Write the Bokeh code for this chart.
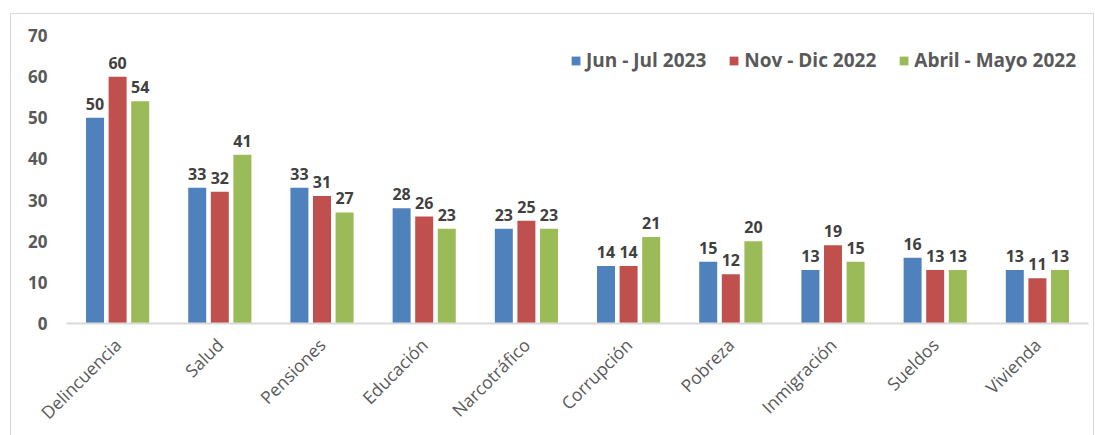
import math
from bokeh.plotting import figure
from bokeh.models import ColumnDataSource, Range1d, SingleIntervalTicker, Legend, LegendItem
from bokeh.transform import dodge
from bokeh.core.properties import value
from bokeh.embed import file_html
from bokeh.resources import INLINE

categories = ["Delincuencia", "Salud", "Pensiones", "Educación", "Narcotráfico",
              "Corrupción", "Pobreza", "Inmigración", "Sueldos", "Vivienda"]
series_names = ["Jun - Jul 2023", "Nov - Dic 2022", "Abril - Mayo 2022"]
jun_jul_2023 = [50, 33, 33, 28, 23, 14, 15, 13, 16, 13]
nov_dic_2022 = [60, 32, 31, 26, 25, 14, 12, 19, 13, 11]
abr_may_2022 = [54, 41, 27, 23, 23, 21, 20, 15, 13, 13]
y_ticks = [0, 10, 20, 30, 40, 50, 60, 70]

colors = ["#4F81BD", "#C0504D", "#9BBB59"]
offsets = [-0.221, 0.0, 0.221]
FONT = "Open Sans"

src = ColumnDataSource(dict(cat=categories, s0=jun_jul_2023, s1=nov_dic_2022, s2=abr_may_2022,
                            l0=[str(v) for v in jun_jul_2023],
                            l1=[str(v) for v in nov_dic_2022],
                            l2=[str(v) for v in abr_may_2022]))

p = figure(x_range=categories, y_range=Range1d(0, 70), frame_width=1022, frame_height=288,
           output_backend="svg", toolbar_location=None,
           min_border_left=55, min_border_right=5, min_border_top=21, min_border_bottom=60)
p.margin = (13, 0, 0, 10)
p.styles = {"border": "1px solid #d9d9d9", "border-bottom": "none"}
p.outline_line_color = None
p.xgrid.grid_line_color = None
p.ygrid.grid_line_color = None
p.background_fill_color = "white"
p.border_fill_color = "white"

items = []
for i in range(3):
    r = p.vbar(x=dodge("cat", offsets[i], range=p.x_range), top="s%d" % i, width=0.176,
               bottom=0, source=src, fill_color=colors[i], line_color=None)
    items.append(LegendItem(label=series_names[i], renderers=[r]))
    p.text(x=dodge("cat", offsets[i], range=p.x_range), y="s%d" % i, text="l%d" % i,
           source=src, text_align="center", text_baseline="alphabetic", y_offset=-14,
           text_font=value(FONT), text_font_style="bold", text_font_size="16px",
           text_color="#404040")

legend = Legend(items=items, orientation="horizontal", location="top_right",
                glyph_width=11, glyph_height=11, label_standoff=5, spacing=22,
                margin=12, padding=12, border_line_color=None, background_fill_alpha=0,
                label_text_font=FONT, label_text_font_style="bold",
                label_text_font_size="19px", label_text_color="#595959")
p.add_layout(legend)

p.yaxis.ticker = SingleIntervalTicker(interval=10)
p.yaxis.axis_line_color = None
p.yaxis.major_tick_line_color = None
p.yaxis.minor_tick_line_color = None
p.yaxis.major_tick_out = 0
p.yaxis.major_label_standoff = 15
p.yaxis.major_label_text_font = FONT
p.yaxis.major_label_text_font_style = "bold"
p.yaxis.major_label_text_font_size = "17px"
p.yaxis.major_label_text_color = "#595959"

p.xaxis.axis_line_color = "#d9d9d9"
p.xaxis.axis_line_width = 2
p.xaxis.major_tick_line_color = None
p.xaxis.minor_tick_line_color = None
p.xaxis.major_tick_out = 0
p.xaxis.major_label_orientation = math.pi / 4
p.xaxis.major_label_standoff = 18
p.xaxis.major_label_text_font = FONT
p.xaxis.major_label_text_font_size = "17.5px"
p.xaxis.major_label_text_color = "#595959"

open("out.html", "w").write(file_html(p, INLINE))
